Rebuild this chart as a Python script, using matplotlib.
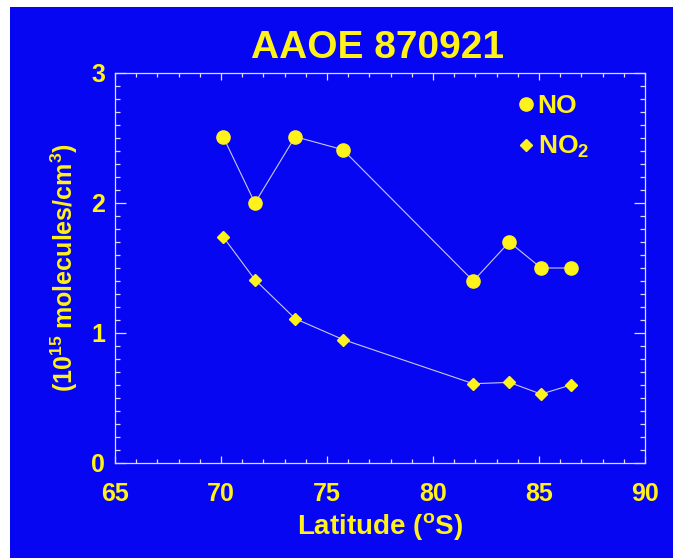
import matplotlib
matplotlib.use("Agg")
import matplotlib.pyplot as plt
from matplotlib.patches import Rectangle
from matplotlib.ticker import MultipleLocator

# ---- data ----
latitude = [70.1, 71.6, 73.5, 75.75, 81.9, 83.6, 85.1, 86.5]
no_vals = [2.51, 2.00, 2.51, 2.41, 1.40, 1.70, 1.50, 1.50]
no2_vals = [1.74, 1.41, 1.11, 0.95, 0.61, 0.62, 0.53, 0.60]
x_ticks = [65, 70, 75, 80, 85, 90]
y_ticks = [0, 1, 2, 3]
title = "AAOE 870921"
xlabel = r"Latitude ($^{\rm o}$S)"
ylabel = r"(10$^{15}$ molecules/cm$^{3}$)"
series_labels = ["NO", r"NO$_{2}$"]

BLUE = "#0606F2"
YELLOW = "#FFF21A"
LINE = "#C8C8EC"
AXC = "#DCDCF4"

plt.rcParams["font.family"] = ["Liberation Sans", "DejaVu Sans"]
plt.rcParams["font.weight"] = "bold"
plt.rcParams["mathtext.fontset"] = "custom"
plt.rcParams["mathtext.rm"] = "Liberation Sans:bold"
plt.rcParams["mathtext.it"] = "Liberation Sans:bold"
plt.rcParams["mathtext.bf"] = "Liberation Sans:bold"
plt.rcParams["mathtext.default"] = "rm"

fig = plt.figure(figsize=(6.73, 5.58), dpi=100)
fig.patch.set_facecolor("white")
fig.patches.append(Rectangle((10 / 673, 0), 1 - 10 / 673, 1 - 7 / 558,
                             transform=fig.transFigure, facecolor=BLUE,
                             edgecolor="none", zorder=-10))

ax = fig.add_axes([115 / 673, (558 - 463) / 558, 530 / 673, 390 / 558])
ax.set_facecolor(BLUE)

ax.plot(latitude, no_vals, color=LINE, lw=0.8, zorder=2)
ax.plot(latitude, no2_vals, color=LINE, lw=0.8, zorder=2)
ax.plot(latitude, no_vals, ls="none", marker="o", ms=9.5, color=YELLOW,
        mec=YELLOW, zorder=3, label=series_labels[0])
ax.plot(latitude, no2_vals, ls="none", marker="D", ms=6.5, color=YELLOW,
        mec=YELLOW, zorder=3, label=series_labels[1])

ax.set_xlim(65, 90)
ax.set_ylim(0, 3)
ax.set_xticks(x_ticks)
ax.set_yticks(y_ticks)
ax.xaxis.set_minor_locator(MultipleLocator(1))
ax.yaxis.set_minor_locator(MultipleLocator(0.1))

for s in ax.spines.values():
    s.set_color(AXC)
    s.set_linewidth(0.9)

ax.tick_params(axis="x", which="major", direction="in", length=5, width=0.9,
               color=AXC, top=True, labelsize=18, labelcolor=YELLOW, pad=14)
ax.tick_params(axis="x", which="minor", direction="in", length=3.2, width=0.9,
               color=AXC, top=True)
ax.tick_params(axis="y", which="major", direction="in", length=8, width=0.9,
               color=AXC, right=True, labelsize=18, labelcolor=YELLOW, pad=7)
ax.tick_params(axis="y", which="minor", direction="in", length=3.8, width=0.9,
               color=AXC, right=True)
for lbl in ax.get_xticklabels() + ax.get_yticklabels():
    lbl.set_fontweight("bold")

ax.set_xlabel(xlabel, fontsize=20, color=YELLOW, fontweight="bold", labelpad=3)
ax.set_ylabel(ylabel, fontsize=18, color=YELLOW, fontweight="bold", labelpad=8)

fig.text(378 / 673, (558 - 58) / 558, title, ha="center", va="baseline",
         fontsize=28, fontweight="bold", color=YELLOW)

leg = ax.legend(loc="upper left", bbox_to_anchor=(0.725, 0.993), frameon=False,
                handlelength=0.6, handletextpad=0.15, labelspacing=0.6,
                fontsize=19, borderpad=0.2)
for t in leg.get_texts():
    t.set_color(YELLOW)
    t.set_fontweight("bold")

fig.savefig("out.png", dpi=100, facecolor=fig.get_facecolor())
